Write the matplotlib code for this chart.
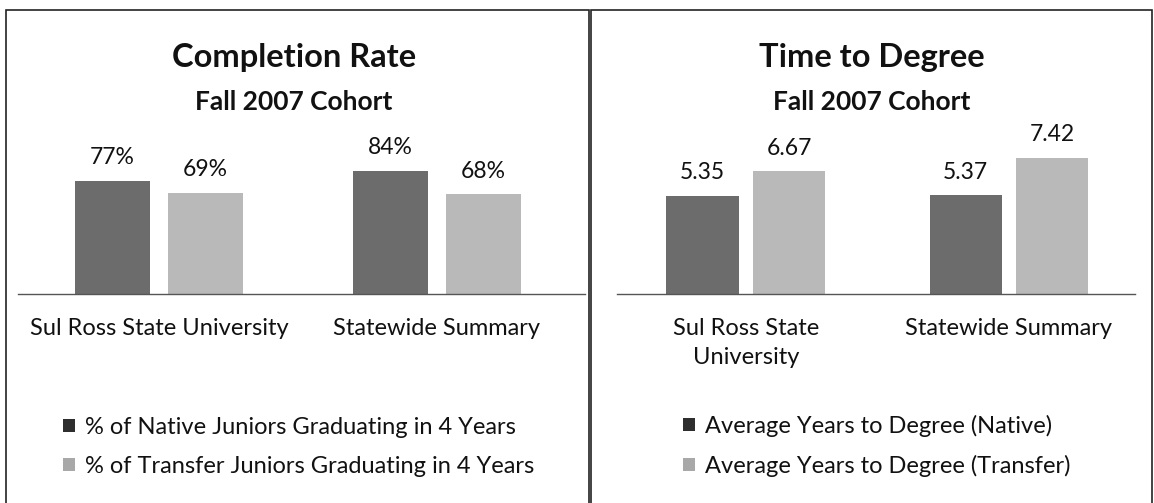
import matplotlib
matplotlib.use("Agg")
import matplotlib.pyplot as plt
from matplotlib.patches import Rectangle, Patch

plt.rcParams['font.family'] = ['Lato', 'DejaVu Sans']

groups_left = ["Sul Ross State University", "Statewide Summary"]
native_rate = [77, 84]
transfer_rate = [69, 68]
legend_left = ["% of Native Juniors Graduating in 4 Years",
               "% of Transfer Juniors Graduating in 4 Years"]

groups_right = ["Sul Ross State\nUniversity", "Statewide Summary"]
native_years = [5.35, 5.37]
transfer_years = [6.67, 7.42]
legend_right = ["Average Years to Degree (Native)",
                "Average Years to Degree (Transfer)"]

W, H = 1154, 503
DARK = "#6c6c6c"
LIGHT = "#b9b9b9"
INK = "#111111"

fig = plt.figure(figsize=(W / 100, H / 100), dpi=100)


def fx(x):
    return x / W


def fy(y):
    return 1 - y / H


# panel borders
for x0, x1 in [(6, 589), (591, 1152)]:
    fig.patches.append(Rectangle((fx(x0), fy(H + 5)), fx(x1 - x0), (H - 5) / H,
                                 transform=fig.transFigure, fill=False,
                                 edgecolor="#222222", linewidth=1.2))


def panel(ax_box, xlim, offset, width, groups, s1, s2, ymax, fmt,
          title, title_x, legend_labels, leg_x, leg_y):
    ax = fig.add_axes(ax_box)
    x = range(len(groups))
    b1 = ax.bar([i - offset for i in x], s1, width, color=DARK)
    b2 = ax.bar([i + offset for i in x], s2, width, color=LIGHT)
    for bars, vals in [(b1, s1), (b2, s2)]:
        for r, v in zip(bars, vals):
            ax.annotate(fmt(v), (r.get_x() + r.get_width() / 2, r.get_height()),
                        xytext=(0, 9), textcoords="offset points",
                        ha="center", va="bottom", fontsize=16.5, color=INK)
    ax.set_xlim(*xlim)
    ax.set_ylim(0, ymax)
    ax.set_yticks([])
    ax.set_xticks(list(x))
    ax.set_xticklabels(groups, fontsize=17, color=INK, linespacing=1.5)
    ax.tick_params(axis="x", length=0, pad=17)
    for s in ["top", "left", "right"]:
        ax.spines[s].set_visible(False)
    ax.spines["bottom"].set_color("#555555")
    ax.spines["bottom"].set_linewidth(1)
    ax.patch.set_alpha(0)

    fig.text(fx(title_x), fy(67), title, ha="center", va="baseline",
             fontsize=23.5, fontweight="bold", color=INK)
    fig.text(fx(title_x), fy(110), "Fall 2007 Cohort", ha="center", va="baseline",
             fontsize=19, fontweight="bold", color=INK)

    handles = [Patch(facecolor="#2e2e2e"), Patch(facecolor="#a8a8a8")]
    fig.legend(handles, legend_labels, loc="center left",
               bbox_to_anchor=(fx(leg_x), fy(leg_y)), frameon=False,
               fontsize=17, handlelength=0.5, handleheight=0.5,
               handletextpad=0.45, labelspacing=0.75, borderpad=0,
               borderaxespad=0, labelcolor=INK)
    return ax


ax_bottom = fy(294)
ax_h = fy(147) - ax_bottom

panel([fx(18), ax_bottom, fx(585 - 18), ax_h], (-0.507, 1.533), 0.167, 0.268,
      groups_left, native_rate, transfer_rate, 100, lambda v: f"{v}%",
      "Completion Rate", 294, legend_left, 63, 447)

panel([fx(617), ax_bottom, fx(1135 - 617), ax_h], (-0.49, 1.479), 0.165, 0.274,
      groups_right, native_years, transfer_years, 8, lambda v: f"{v:.2f}",
      "Time to Degree", 872, legend_right, 683, 446)

fig.savefig("out.png", dpi=100)
